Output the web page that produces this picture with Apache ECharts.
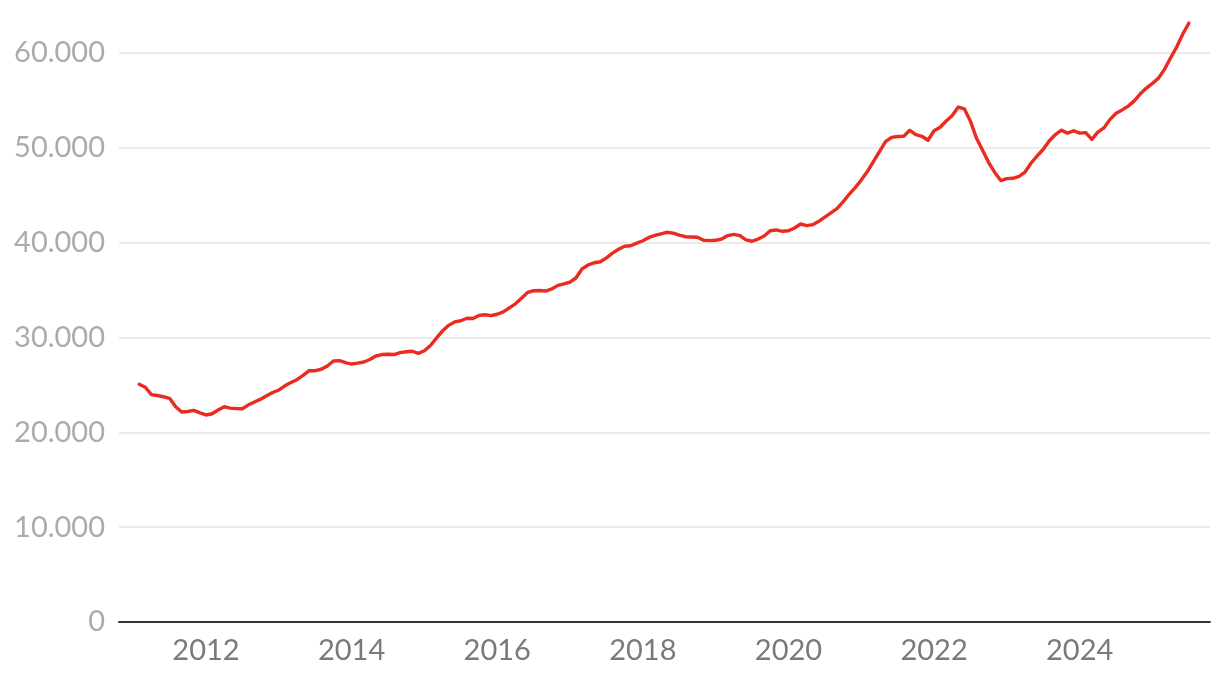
<!DOCTYPE html>
<html>
<head>
<meta charset="utf-8">
<script src="https://cdn.jsdelivr.net/npm/echarts@6/dist/echarts.min.js"></script>
<style>
html,body{margin:0;padding:0;background:#fff;}
#chart{width:1220px;height:678px;}
</style>
</head>
<body>
<div id="chart"></div>
<script>
// Monthly values, first value = Feb 2011
const startYear = 2011;
const startMonth = 2;
const v2011 = [25070, 24750, 23970, 23880, 23750, 23590, 22700, 22150, 22200, 22320, 22050];
const v2012 = [21830, 21960, 22350, 22700, 22550, 22500, 22490, 22900, 23200, 23500, 23850, 24200];
const v2013 = [24460, 24900, 25250, 25550, 26000, 26500, 26500, 26650, 27000, 27520, 27560, 27350];
const v2014 = [27200, 27300, 27420, 27680, 28050, 28200, 28230, 28200, 28400, 28500, 28550, 28330];
const v2015 = [28600, 29150, 29950, 30700, 31280, 31650, 31770, 32030, 32000, 32330, 32400, 32300];
const v2016 = [32450, 32700, 33130, 33550, 34150, 34750, 34930, 34950, 34900, 35120, 35500, 35650];
const v2017 = [35850, 36300, 37250, 37650, 37880, 37990, 38400, 38900, 39300, 39620, 39680, 39950];
const v2018 = [40200, 40550, 40760, 40930, 41100, 41000, 40800, 40630, 40600, 40570, 40250, 40210];
const v2019 = [40250, 40390, 40750, 40870, 40750, 40300, 40150, 40380, 40700, 41260, 41340, 41200];
const v2020 = [41250, 41550, 41970, 41800, 41900, 42250, 42700, 43150, 43600, 44300, 45100, 45800];
const v2021 = [46600, 47500, 48550, 49600, 50650, 51100, 51200, 51220, 51850, 51400, 51220, 50800];
const v2022 = [51800, 52170, 52830, 53400, 54300, 54100, 52800, 51000, 49750, 48450, 47400, 46550];
const v2023 = [46750, 46790, 47000, 47450, 48400, 49150, 49850, 50750, 51400, 51860, 51550, 51800];
const v2024 = [51550, 51600, 50900, 51650, 52100, 53000, 53650, 54000, 54400, 54950, 55700, 56300];
const v2025 = [56800, 57350, 58300, 59500, 60650, 62000, 63150];

const yTicks = [0, 10000, 20000, 30000, 40000, 50000, 60000];
const xTickYears = [2012, 2014, 2016, 2018, 2020, 2022, 2024];

const allValues = [].concat(v2011, v2012, v2013, v2014, v2015, v2016, v2017, v2018, v2019, v2020, v2021, v2022, v2023, v2024, v2025);
const seriesData = allValues.map((v, i) => {
  const m = startMonth - 1 + i;
  return [startYear + m / 12, v];
});

const fmt = v => String(v).replace(/\B(?=(\d{3})+(?!\d))/g, '.');

const chart = echarts.init(document.getElementById('chart'), null, {renderer: 'canvas'});
chart.setOption({
  animation: false,
  backgroundColor: '#ffffff',
  grid: {left: 119, right: 10, top: 53, bottom: 56, containLabel: false},
  xAxis: {
    type: 'value',
    min: 2010.805,
    max: 2025.79,
    splitLine: {show: false},
    axisTick: {show: false},
    axisLine: {show: true, onZero: false, lineStyle: {color: '#333333', width: 2}},
    axisLabel: {
      customValues: xTickYears,
      formatter: v => String(Math.round(v)),
      color: '#7a7a7a',
      fontFamily: 'Lato',
      fontSize: 29,
      margin: 14
    }
  },
  yAxis: {
    type: 'value',
    min: yTicks[0],
    max: yTicks[yTicks.length - 1],
    interval: 10000,
    axisLine: {show: false},
    axisTick: {show: false},
    splitLine: {show: true, lineStyle: {color: '#e3e3e3', width: 1.5}},
    axisLabel: {
      formatter: v => fmt(v),
      color: '#ababab',
      fontFamily: 'Lato',
      fontSize: 29,
      margin: 14,
      verticalAlign: 'middle',
      padding: [3, 0, 0, 0]
    }
  },
  series: [{
    type: 'line',
    data: seriesData,
    showSymbol: false,
    clip: false,
    smooth: false,
    lineStyle: {color: '#ea2b20', width: 3.4, join: 'round', cap: 'round'},
    itemStyle: {color: '#ea2b20'}
  }]
});
</script>
</body>
</html>
